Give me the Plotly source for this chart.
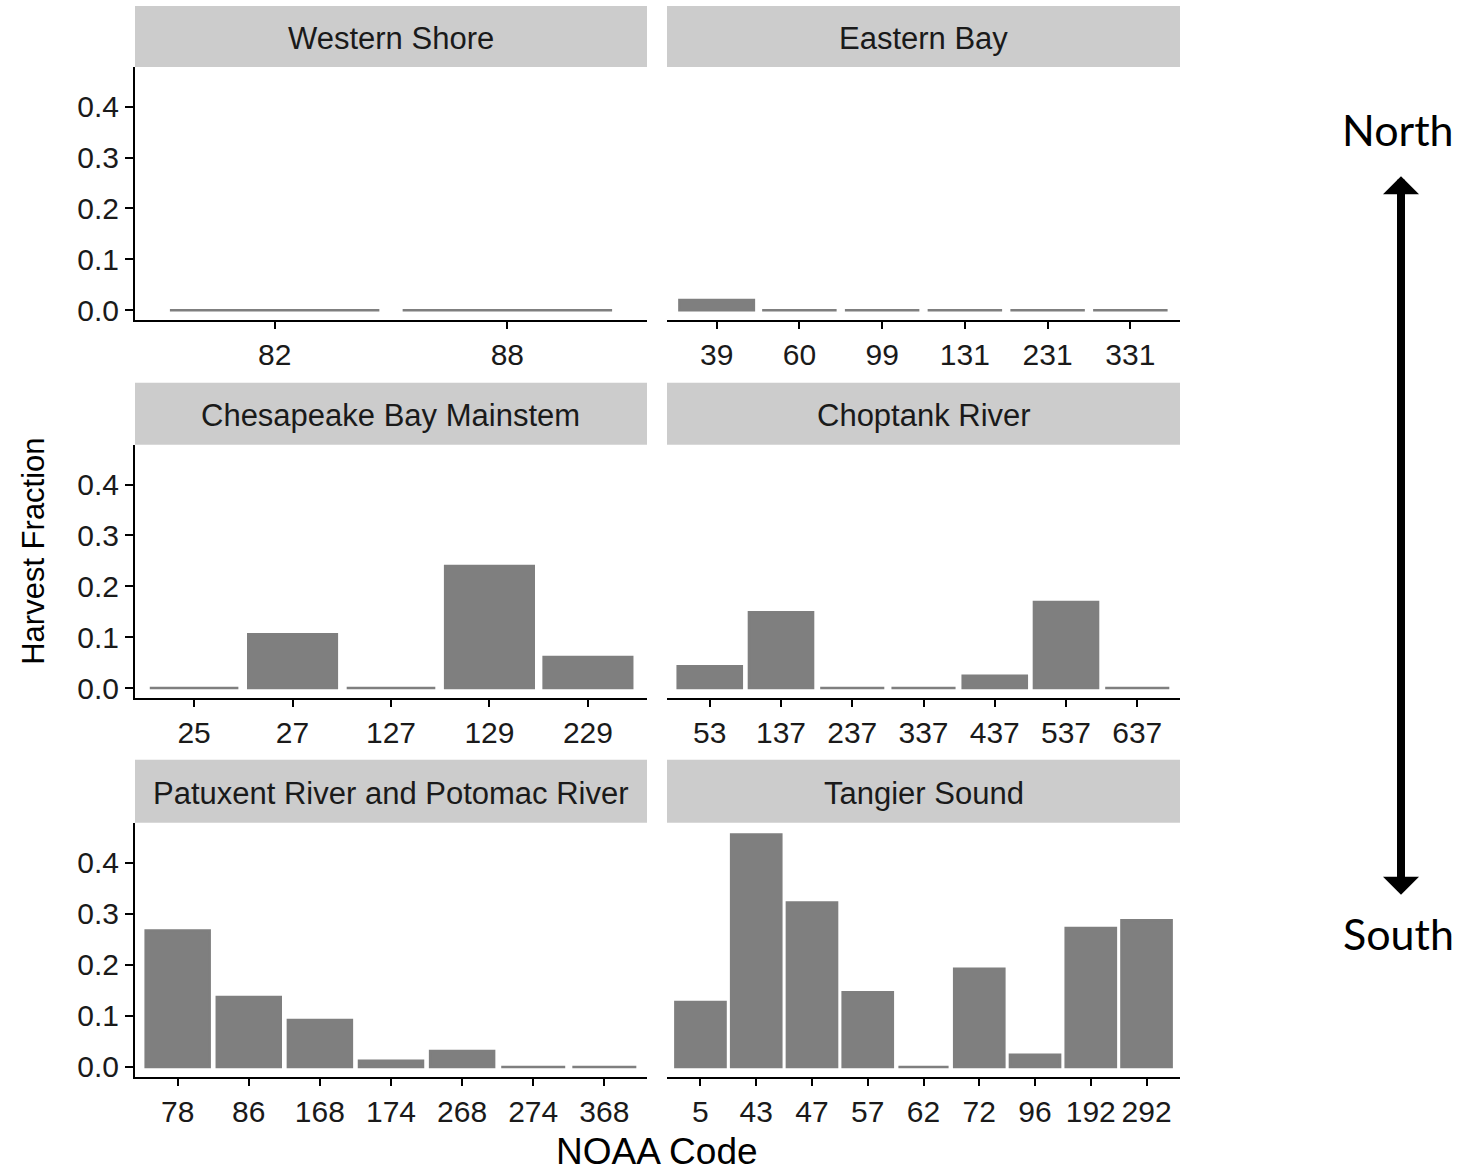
import plotly.graph_objects as go

# reference canvas size
W, H = 1463, 1173
# vertical correction: rendered output came out ~0.6% compressed vertically
S = 1.0056
FH = round(H * S)

# ---- data ----
panel_titles = ["Western Shore", "Eastern Bay", "Chesapeake Bay Mainstem",
                "Choptank River", "Patuxent River and Potomac River", "Tangier Sound"]

ws_codes = ["82", "88"]
ws_vals = [0, 0]
eb_codes = ["39", "60", "99", "131", "231", "331"]
eb_vals = [0.020, 0, 0, 0, 0, 0]
cb_codes = ["25", "27", "127", "129", "229"]
cb_vals = [0, 0.106, 0, 0.240, 0.061]
ch_codes = ["53", "137", "237", "337", "437", "537", "637"]
ch_vals = [0.043, 0.149, 0, 0, 0.024, 0.169, 0]
pp_codes = ["78", "86", "168", "174", "268", "274", "368"]
pp_vals = [0.267, 0.137, 0.092, 0.012, 0.031, 0, 0]
ts_codes = ["5", "43", "47", "57", "62", "72", "96", "192", "292"]
ts_vals = [0.127, 0.455, 0.322, 0.146, 0, 0.192, 0.024, 0.272, 0.287]

y_ticks = [0.0, 0.1, 0.2, 0.3, 0.4]
y_ticktext = ["0.0", "0.1", "0.2", "0.3", "0.4"]

codes = [ws_codes, eb_codes, cb_codes, ch_codes, pp_codes, ts_codes]
vals = [ws_vals, eb_vals, cb_vals, ch_vals, pp_vals, ts_vals]

# ---- layout geometry (reference pixels) ----
col_x = [(135, 647), (667, 1180)]
row_panel = [(67, 320), (445, 698), (823, 1077)]
row_strip = [(6, 67), (383, 445), (760, 823)]

def px(x):
    return x / W

def py(y):
    return 1 - (y * S) / FH

FONT = "Liberation Sans, Arial, sans-serif"
BAR = "#7f7f7f"

fig = go.Figure()
layout = dict(
    width=W, height=FH, autosize=False,
    margin=dict(l=0, r=0, t=0, b=0),
    paper_bgcolor="white", plot_bgcolor="white",
    showlegend=False, bargap=0.1,
    font=dict(family=FONT, color="#1a1a1a"),
)
shapes = []
annotations = []

for i in range(6):
    r, c = divmod(i, 2)
    n = len(codes[i])
    xa = "x" if i == 0 else f"x{i+1}"
    ya = "y" if i == 0 else f"y{i+1}"
    fig.add_trace(go.Bar(
        x=codes[i], y=vals[i], xaxis=xa, yaxis=ya,
        marker=dict(color=BAR, line=dict(color=BAR, width=2.5)),
    ))
    x0, x1 = col_x[c]
    yt, yb = row_panel[r]
    layout["xaxis" if i == 0 else f"xaxis{i+1}"] = dict(
        domain=[px(x0), px(x1)], anchor=ya, type="category",
        categoryorder="array", categoryarray=codes[i],
        range=[-0.6, n - 0.4], showgrid=False, zeroline=False,
        showline=True, linecolor="black", linewidth=2,
        ticks="outside", ticklen=7, tickwidth=2, tickcolor="black",
        tickfont=dict(size=30, color="#1a1a1a", family=FONT),
        fixedrange=True,
    )
    ydict = dict(
        domain=[py(yb), py(yt)], anchor=xa, range=[-0.019, 0.478],
        showgrid=False, zeroline=False, fixedrange=True,
    )
    if c == 0:
        ydict.update(showline=True, linecolor="black", linewidth=2,
                     ticks="outside", ticklen=8, tickwidth=2, tickcolor="black",
                     tickvals=y_ticks, ticktext=y_ticktext,
                     tickfont=dict(size=30, color="#1a1a1a", family=FONT))
    else:
        ydict.update(showline=False, showticklabels=False, ticks="")
    layout["yaxis" if i == 0 else f"yaxis{i+1}"] = ydict

    st, sb = row_strip[r]
    shapes.append(dict(type="rect", xref="paper", yref="paper",
                       x0=px(x0), x1=px(x1), y0=py(sb), y1=py(st),
                       fillcolor="#cccccc", line=dict(width=0), layer="below"))
    annotations.append(dict(text=panel_titles[i], xref="paper", yref="paper",
                            x=px((x0 + x1) / 2), y=py((st + sb) / 2 + 2),
                            xanchor="center", yanchor="middle", showarrow=False,
                            font=dict(size=31, color="#1a1a1a", family=FONT)))

# axis titles
annotations.append(dict(text="NOAA Code", xref="paper", yref="paper",
                        x=px(657), y=py(1152), xanchor="center", yanchor="middle",
                        showarrow=False, font=dict(size=37, color="black", family=FONT)))
annotations.append(dict(text="Harvest Fraction", xref="paper", yref="paper",
                        x=px(34), y=py(552), xanchor="center", yanchor="middle",
                        textangle=-90, showarrow=False,
                        font=dict(size=31, color="black", family=FONT)))

# North / South indicator
annotations.append(dict(text="North", xref="paper", yref="paper",
                        x=px(1398), y=py(130), xanchor="center", yanchor="middle",
                        showarrow=False, font=dict(size=43, color="black", family="Lato")))
annotations.append(dict(text="South", xref="paper", yref="paper",
                        x=px(1398), y=py(934), xanchor="center", yanchor="middle",
                        showarrow=False, font=dict(size=43, color="black", family="Lato")))
annotations.append(dict(text="", xref="paper", yref="paper",
                        x=px(1401), y=py(895), ax=0, ay=-(895 - 179) * S,
                        showarrow=True, arrowside="end+start",
                        arrowhead=1, startarrowhead=1,
                        arrowsize=0.75, startarrowsize=0.75,
                        arrowwidth=8, arrowcolor="black",
                        standoff=0, startstandoff=0))

layout["shapes"] = shapes
layout["annotations"] = annotations
fig.update_layout(**layout)

fig.write_html(
    "out.html",
    config={"displayModeBar": False},
    post_script="document.body.style.margin='0px';document.body.style.overflow='hidden';",
)
